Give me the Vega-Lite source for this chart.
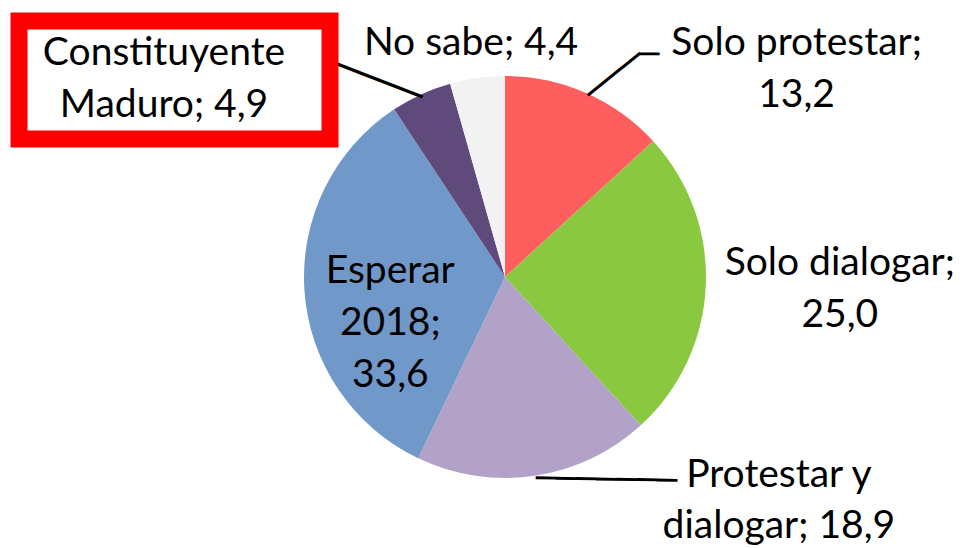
{
  "$schema": "https://vega.github.io/schema/vega-lite/v6.json",
  "width": 918,
  "height": 458,
  "autosize": {"type": "none"},
  "padding": {"left": 46, "top": 48, "right": 0, "bottom": 42},
  "background": "white",
  "config": {"view": {"stroke": null}, "text": {"font": "Lato"}},
  "data": {
    "values": [
      {"idx": 1, "category": "Solo protestar", "value": 13.2, "label": "Solo protestar;\n13,2"},
      {"idx": 2, "category": "Solo dialogar", "value": 25.0, "label": "Solo dialogar;\n25,0"},
      {"idx": 3, "category": "Protestar y dialogar", "value": 18.9, "label": "Protestar y\ndialogar; 18,9"},
      {"idx": 4, "category": "Esperar 2018", "value": 33.6, "label": "Esperar\n2018;\n33,6"},
      {"idx": 5, "category": "Constituyente Maduro", "value": 4.9, "label": "Constituyente\nMaduro; 4,9"},
      {"idx": 6, "category": "No sabe", "value": 4.4, "label": "No sabe; 4,4"}
    ]
  },
  "layer": [
    {
      "mark": {"type": "arc", "outerRadius": 201},
      "encoding": {
        "theta": {"field": "value", "type": "quantitative", "stack": true},
        "order": {"field": "idx", "type": "quantitative"},
        "color": {
          "field": "category",
          "type": "nominal",
          "scale": {
            "domain": ["Solo protestar", "Solo dialogar", "Protestar y dialogar", "Esperar 2018", "Constituyente Maduro", "No sabe"],
            "range": ["#FF5E5E", "#89C83F", "#B3A2C7", "#7099C9", "#604A7B", "#F2F2F2"]
          },
          "legend": {
            "orient": "top-left",
            "offset": -27,
            "zindex": -1,
            "values": ["Constituyente Maduro"],
            "title": ["Constituyente", "Maduro; 4,9"],
            "titleFont": "Lato",
            "titleFontSize": 39,
            "titleFontWeight": "normal",
            "titleColor": "black",
            "titleLineHeight": 52,
            "titleAnchor": "middle",
            "titleAlign": "center",
            "titlePadding": 0,
            "titleLimit": 2000,
            "symbolSize": 0,
            "symbolOpacity": 0,
            "symbolStrokeWidth": 0,
            "labelExpr": "''",
            "labelFontSize": 1,
            "labelOffset": 284,
            "padding": 13,
            "fillColor": "white",
            "strokeColor": "#FF0000",
            "encode": {
              "legend": {"update": {"strokeWidth": {"value": 17}}},
              "title": {"update": {"dx": {"value": -11}}}
            }
          }
        }
      }
    },
    {
      "mark": {"type": "text", "font": "Lato", "fontSize": 39, "lineHeight": 52, "lineBreak": "\n", "align": "center", "baseline": "alphabetic", "radius": 210, "dx": 207, "dy": -30, "color": "black"},
      "encoding": {
        "theta": {"field": "value", "type": "quantitative", "stack": true},
        "order": {"field": "idx", "type": "quantitative"},
        "detail": {"field": "category"},
        "text": {"condition": {"test": "datum.category === 'Solo protestar'", "field": "label"}, "value": ""}
      }
    },
    {
      "mark": {"type": "text", "font": "Lato", "fontSize": 39, "lineHeight": 52, "lineBreak": "\n", "align": "center", "baseline": "alphabetic", "radius": 210, "dx": 125, "dy": -11, "color": "black"},
      "encoding": {
        "theta": {"field": "value", "type": "quantitative", "stack": true},
        "order": {"field": "idx", "type": "quantitative"},
        "detail": {"field": "category"},
        "text": {"condition": {"test": "datum.category === 'Solo dialogar'", "field": "label"}, "value": ""}
      }
    },
    {
      "mark": {"type": "text", "font": "Lato", "fontSize": 39, "lineHeight": 51, "lineBreak": "\n", "align": "center", "baseline": "alphabetic", "radius": 210, "dx": 243, "dy": 2, "color": "black"},
      "encoding": {
        "theta": {"field": "value", "type": "quantitative", "stack": true},
        "order": {"field": "idx", "type": "quantitative"},
        "detail": {"field": "category"},
        "text": {"condition": {"test": "datum.category === 'Protestar y dialogar'", "field": "label"}, "value": ""}
      }
    },
    {
      "mark": {"type": "text", "font": "Lato", "fontSize": 39, "lineHeight": 52, "lineBreak": "\n", "align": "center", "baseline": "alphabetic", "radius": 115, "dx": 0, "dy": -2, "color": "black"},
      "encoding": {
        "theta": {"field": "value", "type": "quantitative", "stack": true},
        "order": {"field": "idx", "type": "quantitative"},
        "detail": {"field": "category"},
        "text": {"condition": {"test": "datum.category === 'Esperar 2018'", "field": "label"}, "value": ""}
      }
    },
    {
      "mark": {"type": "text", "font": "Lato", "fontSize": 39, "lineHeight": 52, "lineBreak": "\n", "align": "center", "baseline": "alphabetic", "radius": 210, "dx": -5, "dy": -14, "color": "black"},
      "encoding": {
        "theta": {"field": "value", "type": "quantitative", "stack": true},
        "order": {"field": "idx", "type": "quantitative"},
        "detail": {"field": "category"},
        "text": {"condition": {"test": "datum.category === 'No sabe'", "field": "label"}, "value": ""}
      }
    },
    {
      "mark": {"type": "text", "font": "DejaVu Sans", "fontSize": 38, "align": "center", "baseline": "middle", "radius": 201, "angle": 21, "dx": -43.8, "dy": 3.8, "color": "black"},
      "encoding": {
        "theta": {"field": "value", "type": "quantitative", "stack": true},
        "order": {"field": "idx", "type": "quantitative"},
        "detail": {"field": "category"},
        "text": {"condition": {"test": "datum.category === 'Constituyente Maduro'", "value": "────"}, "value": ""}
      }
    },
    {
      "mark": {"type": "text", "font": "DejaVu Sans", "fontSize": 33, "align": "center", "baseline": "middle", "radius": 201, "dx": -113, "dy": -28, "color": "black"},
      "encoding": {
        "theta": {"field": "value", "type": "quantitative", "stack": true},
        "order": {"field": "idx", "type": "quantitative"},
        "detail": {"field": "category"},
        "text": {"condition": {"test": "datum.category === 'Constituyente Maduro'", "value": "─"}, "value": ""}
      }
    },
    {
      "mark": {"type": "text", "font": "DejaVu Sans", "fontSize": 37, "align": "center", "baseline": "middle", "radius": 201, "angle": -39, "dx": 33.7, "dy": 4.6, "color": "black"},
      "encoding": {
        "theta": {"field": "value", "type": "quantitative", "stack": true},
        "order": {"field": "idx", "type": "quantitative"},
        "detail": {"field": "category"},
        "text": {"condition": {"test": "datum.category === 'Solo protestar'", "value": "───"}, "value": ""}
      }
    },
    {
      "mark": {"type": "text", "font": "DejaVu Sans", "fontSize": 32, "align": "center", "baseline": "middle", "radius": 201, "dx": 63.5, "dy": -38.5, "color": "black"},
      "encoding": {
        "theta": {"field": "value", "type": "quantitative", "stack": true},
        "order": {"field": "idx", "type": "quantitative"},
        "detail": {"field": "category"},
        "text": {"condition": {"test": "datum.category === 'Solo protestar'", "value": "─"}, "value": ""}
      }
    },
    {
      "mark": {"type": "text", "font": "DejaVu Sans", "fontSize": 33.5, "align": "center", "baseline": "middle", "radius": 201, "angle": 1, "dx": 72, "dy": 3.5, "color": "black"},
      "encoding": {
        "theta": {"field": "value", "type": "quantitative", "stack": true},
        "order": {"field": "idx", "type": "quantitative"},
        "detail": {"field": "category"},
        "text": {"condition": {"test": "datum.category === 'Protestar y dialogar'", "value": "───────"}, "value": ""}
      }
    }
  ]
}
